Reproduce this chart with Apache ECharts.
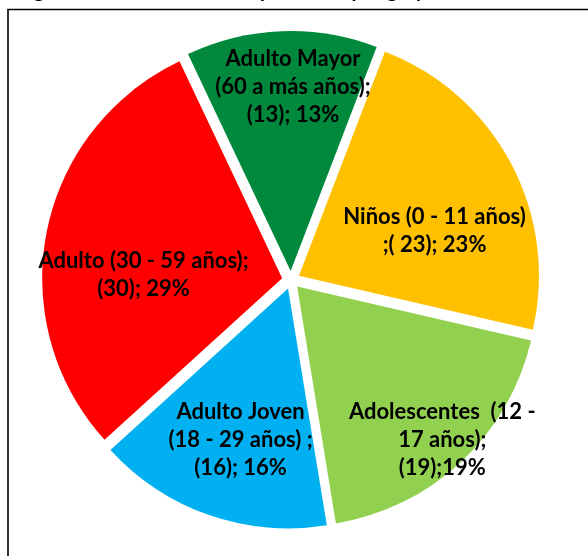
<!DOCTYPE html>
<html>
<head>
<meta charset="utf-8">
<script src="https://cdn.jsdelivr.net/npm/echarts@6/dist/echarts.min.js"></script>
<style>
html,body{margin:0;padding:0;background:#fff;}
#chart{width:588px;height:556px;}
</style>
</head>
<body>
<div id="chart"></div>
<script>
// Data (clockwise order starting after the top)
const categories = ['Niños (0 - 11 años)', 'Adolescentes (12 - 17 años)', 'Adulto Joven (18 - 29 años)', 'Adulto (30 - 59 años)', 'Adulto Mayor (60 a más años)'];
const values = [23, 19, 16, 30, 13];
const percents = ['23%', '19%', '16%', '29%', '13%'];
const labelTexts = [
  'Niños (0 - 11 años)\n;( 23); 23%',
  'Adolescentes  (12 -\n17 años);\n(19);19%',
  'Adulto Joven\n(18 - 29 años) ;\n(16); 16%',
  'Adulto (30 - 59 años);\n(30); 29%',
  'Adulto Mayor\n(60 a más años);\n(13); 13%'
];
const titleText = 'Figura 1: Distribución de la población por grupo etario';

// Styles
const colors = ['#FFC000', '#92D050', '#00B0F0', '#FF0000', '#00893C'];
const labelOffsets = [[27, 13], [61, 64], [-7, 35], [-18, 21], [7, -61]];

const chart = echarts.init(document.getElementById('chart'), null, {renderer: 'canvas'});
const data = values.map((v, i) => ({
  name: categories[i],
  value: v,
  selected: true,
  itemStyle: {color: colors[i]}
}));

chart.setOption({
  animation: false,
  backgroundColor: '#fff',
  title: {
    text: titleText,
    left: 12,
    top: -24,
    textStyle: {fontFamily: 'Lato', fontWeight: 'bold', fontSize: 20, color: '#000'}
  },
  graphic: [{
    type: 'rect',
    shape: {x: 8, y: 9.5, width: 700, height: 700},
    style: {fill: 'none', stroke: '#000', lineWidth: 1.6},
    silent: true,
    z: 10
  }],
  series: [{
    type: 'pie',
    center: [291, 280],
    radius: [0, 240],
    startAngle: 69,
    clockwise: true,
    selectedMode: 'multiple',
    selectedOffset: 9,
    avoidLabelOverlap: false,
    emphasis: {disabled: true, scale: false},
    itemStyle: {borderWidth: 0},
    labelLine: {show: false},
    label: {
      show: true,
      position: 'inside',
      formatter: p => labelTexts[p.dataIndex],
      fontFamily: 'Lato',
      fontWeight: 'bold',
      fontSize: 22,
      lineHeight: 28,
      color: '#000',
      align: 'center',
      textBorderWidth: 0
    },
    labelLayout: p => ({dx: labelOffsets[p.dataIndex][0], dy: labelOffsets[p.dataIndex][1]}),
    data: data
  }]
});
</script>
</body>
</html>
